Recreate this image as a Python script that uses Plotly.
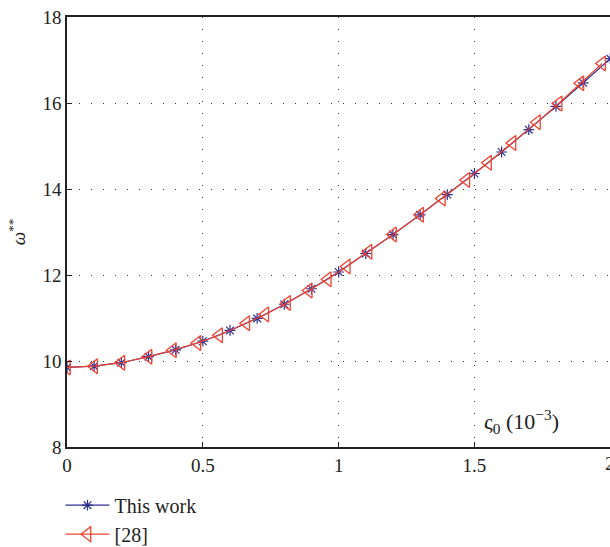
import plotly.graph_objects as go

# Data: "This work"
x_this = [0.0, 0.1, 0.2, 0.3, 0.4, 0.5, 0.6, 0.7, 0.8, 0.9, 1.0,
          1.1, 1.2, 1.3, 1.4, 1.5, 1.6, 1.7, 1.8, 1.9, 2.0]
y_this = [9.85, 9.88, 9.96, 10.10, 10.26, 10.46, 10.71, 10.99, 11.32, 11.68, 12.07,
          12.50, 12.94, 13.40, 13.87, 14.36, 14.86, 15.38, 15.92, 16.47, 17.03]

# Data: "[28]"
x_ref = [0.0, 0.1, 0.2, 0.3, 0.39, 0.48, 0.56, 0.66, 0.73, 0.81, 0.89, 0.96,
         1.03, 1.11, 1.2, 1.3, 1.38, 1.47, 1.55, 1.64, 1.73, 1.81, 1.89, 1.97]
y_ref = [9.85, 9.88, 9.96, 10.10, 10.25, 10.42, 10.60, 10.88, 11.08, 11.35, 11.64, 11.90,
         12.20, 12.54, 12.94, 13.40, 13.78, 14.21, 14.61, 15.07, 15.55, 15.99, 16.46, 16.92]

x_ticks = [0, 0.5, 1, 1.5]
x_tick_labels = ["0", "0.5", "1", "1.5"]
x_last_tick = 2
y_ticks = [8, 10, 12, 14, 16, 18]

X_MAX = 1.999
FONT = "Liberation Serif"
BLUE = "#2e2f8f"
RED = "#ee4433"

fig = go.Figure()
fig.add_trace(go.Scatter(
    x=x_this, y=y_this, mode="lines+markers", name="This work",
    line=dict(color=BLUE, width=1.2),
    marker=dict(symbol="asterisk-open", size=9, line=dict(color=BLUE, width=1.2)),
))
fig.add_trace(go.Scatter(
    x=x_ref, y=y_ref, mode="lines+markers", name="[28]",
    line=dict(color=RED, width=1.2),
    marker=dict(symbol="triangle-left-open", size=13, line=dict(color=RED, width=1.3)),
))

grid_dash = "1px,11px"
fig.update_layout(
    width=610, height=547,
    margin=dict(l=67, r=0, t=17, b=100, autoexpand=False),
    paper_bgcolor="white", plot_bgcolor="white",
    font=dict(family=FONT, size=19, color="#222"),
    showlegend=True,
    legend=dict(x=-0.012, y=-0.09, xanchor="left", yanchor="top",
                font=dict(family=FONT, size=20, color="#222"),
                tracegroupgap=0, itemwidth=44, bgcolor="rgba(0,0,0,0)"),
    xaxis=dict(range=[0, X_MAX], tickvals=x_ticks, ticktext=x_tick_labels,
               showline=True, linecolor="#222", linewidth=1.6, mirror=True,
               ticks="inside", ticklen=5, tickcolor="#222",
               showgrid=True, gridcolor="#333", gridwidth=1, griddash=grid_dash,
               zeroline=False, tickfont=dict(family=FONT, size=19)),
    yaxis=dict(range=[8, 18], tickvals=y_ticks,
               showline=True, linecolor="#222", linewidth=1.6, mirror=False,
               ticks="inside", ticklen=5, tickcolor="#222",
               showgrid=True, gridcolor="#333", gridwidth=1, griddash=grid_dash,
               zeroline=False, tickfont=dict(family=FONT, size=19),
               title=dict(text="<i>ω</i><sup>**</sup>", font=dict(family=FONT, size=19), standoff=12)),
    yaxis2=dict(range=[8, 18], tickvals=y_ticks, overlaying="y", side="right", anchor="x",
                showline=False, ticks="inside", ticklen=5, tickcolor="#222",
                showticklabels=False, showgrid=False, zeroline=False),
)

# last x tick label (partly outside the visible window, as in the reference)
fig.add_annotation(
    x=x_last_tick / X_MAX, y=0, xref="paper", yref="paper",
    xanchor="center", yanchor="top", yshift=-4,
    text=str(x_last_tick), showarrow=False,
    font=dict(family=FONT, size=19, color="#222"),
)

fig.add_annotation(
    x=1.675, y=8.6, xref="x", yref="y",
    text="ς<sub>0</sub> (10<sup>−3</sup>)", showarrow=False,
    font=dict(family=FONT, size=22, color="#222"),
)

fig.write_html("out.html", post_script="document.body.style.margin='0px';",
               config={"displayModeBar": False})
